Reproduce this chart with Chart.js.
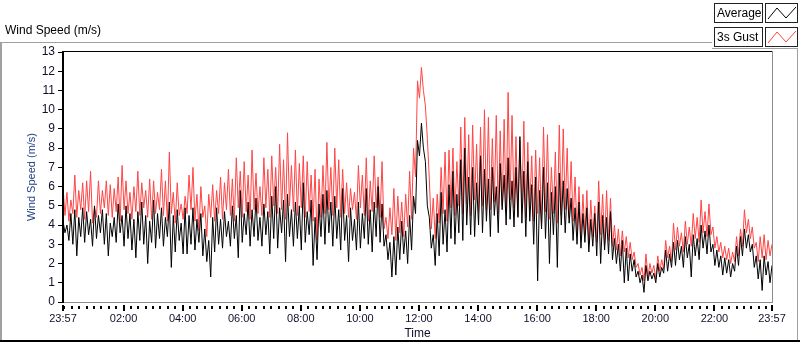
<!DOCTYPE html>
<html><head><meta charset="utf-8">
<script src="https://cdn.jsdelivr.net/npm/chart.js@4/dist/chart.umd.min.js"></script>
<style>html,body{margin:0;padding:0;background:#fff;overflow:hidden}#wrap{position:relative;width:800px;height:342px}canvas{display:block}</style>
</head><body><div id="wrap"><canvas id="c" width="800" height="342"></canvas></div>
<script>
const CHART_TITLE = "Wind Speed (m/s)";
const Y_TITLE = "Wind Speed (m/s)";
const X_TITLE = "Time";
const SERIES_NAMES = ["Average", "3s Gust"];
const SAMPLE_MINUTES = 4;

const AVERAGE = [
4.2,3.6,4.0,3.2,4.6,3.0,4.8,2.4,4.4,3.4,4.9,3.1,4.7,3.5,4.3,2.9,5.0,3.3,4.5,3.6,4.8,3.0,4.6,2.4,4.1,3.4,4.4,3.1,5.1,3.6,4.5,2.9,5.0,3.3,4.6,2.7,4.3,2.3,4.7,3.2,5.2,3.0,4.5,2.0,4.2,3.1,5.3,2.8,4.6,3.3,4.9,2.9,4.4,3.4,5.2,1.8,4.5,2.6,4.8,3.2,4.1,2.5,4.9,2.5,4.5,3.0,4.9,2.7,4.3,3.1,4.6,2.4,
3.8,2.1,3.2,1.3,4.4,2.6,4.9,3.0,4.3,2.8,4.7,3.4,4.2,2.9,5.0,3.3,4.5,2.3,5.8,3.1,4.6,3.5,5.2,2.9,4.8,3.4,5.4,3.2,4.4,2.9,5.1,3.5,4.7,2.5,5.5,3.3,6.0,2.8,4.9,3.6,5.3,2.1,5.6,3.4,4.8,2.9,5.2,3.3,5.0,2.7,6.2,3.1,4.7,3.5,5.3,1.9,4.4,2.2,5.1,3.4,5.6,3.0,5.8,3.6,5.2,2.9,5.5,3.3,4.8,2.7,5.9,3.2,
4.5,2.1,4.9,3.2,4.3,2.7,5.2,2.8,4.6,3.3,5.9,3.0,4.8,2.6,5.2,3.4,6.0,3.1,5.1,2.9,3.5,2.2,3.1,1.3,3.4,1.4,3.9,2.2,4.2,2.5,3.7,2.0,4.5,2.7,5.5,4.6,8.4,7.6,9.3,8.0,7.3,5.0,4.4,2.8,3.5,1.9,4.6,2.4,5.7,3.0,4.8,2.6,6.1,3.3,6.8,3.0,5.6,3.6,7.4,3.2,8.0,4.0,6.5,3.5,7.0,3.4,6.2,4.0,7.6,3.6,6.9,4.2,
6.4,3.4,7.0,4.5,6.0,3.6,7.2,4.8,6.6,4.0,7.5,4.3,6.3,3.9,7.0,4.4,8.6,4.1,6.8,3.4,7.3,4.2,6.1,3.0,6.5,1.1,5.8,3.8,7.0,3.3,6.2,2.0,5.7,3.5,6.0,1.8,6.7,4.0,6.3,3.6,5.9,4.1,5.4,3.2,4.9,3.0,5.2,2.8,4.6,3.1,4.9,2.6,4.3,2.9,4.6,2.4,5.2,2.0,4.5,2.7,4.4,2.5,4.7,2.2,3.3,2.0,3.0,1.6,3.2,1.0,2.8,1.1,
2.5,1.6,2.2,1.3,1.6,1.0,1.4,0.5,1.9,1.1,1.6,1.2,1.5,1.0,2.0,1.3,1.8,1.5,2.7,1.6,2.5,1.8,3.1,1.9,3.2,2.2,2.9,1.8,3.4,2.3,3.0,1.3,3.5,2.4,3.3,2.2,4.0,2.8,3.7,2.5,4.0,2.6,3.0,1.9,2.7,1.8,2.4,1.4,2.3,1.5,2.2,1.3,2.0,1.6,2.9,1.9,3.4,2.4,3.8,2.8,3.5,2.6,3.0,1.8,2.4,1.2,2.2,0.6,2.4,1.4,2.1,1.0,
1.9
];

const GUST = [
6.0,4.5,5.7,4.2,5.3,4.6,6.6,4.4,5.8,4.8,6.2,4.3,6.3,4.7,6.8,4.1,4.9,4.4,6.3,4.6,5.8,4.9,6.3,4.5,6.1,4.4,5.9,4.7,6.5,4.2,7.1,4.8,6.3,4.6,5.7,4.3,6.0,4.7,6.8,4.5,6.2,4.9,5.8,4.4,6.4,4.3,6.3,4.6,5.7,4.8,6.9,4.5,6.3,4.2,7.8,4.6,5.7,4.1,6.2,4.5,5.1,4.3,5.5,4.6,6.6,4.8,7.0,4.2,5.6,3.7,6.0,4.4,
5.0,3.4,5.6,4.4,6.1,4.2,5.8,4.6,6.5,4.3,6.2,4.8,6.9,4.5,6.4,4.2,7.5,4.9,6.8,4.4,7.3,4.7,6.6,4.3,7.9,4.8,6.7,4.6,6.0,4.5,7.5,4.9,6.9,4.4,7.6,5.0,7.0,4.6,8.2,4.8,7.4,4.3,8.8,5.0,7.1,4.7,7.9,4.5,7.2,4.9,7.6,4.4,7.3,4.7,6.6,4.2,6.9,3.2,6.4,4.4,7.1,4.6,8.3,4.8,7.0,4.5,8.0,4.9,7.4,4.4,6.9,4.6,
6.2,4.4,5.9,4.8,5.7,4.3,7.1,4.9,6.6,4.5,7.5,4.2,6.3,4.7,7.6,4.9,6.5,4.4,7.3,3.8,4.4,3.3,4.9,3.5,5.9,3.2,5.5,3.6,5.2,3.4,5.6,3.9,6.8,4.3,8.0,6.5,11.5,10.6,12.2,11.0,10.2,8.5,6.4,3.8,5.4,3.3,5.6,4.1,7.0,4.6,7.8,4.2,7.9,4.9,8.0,4.5,7.3,5.0,9.1,4.6,9.6,5.1,8.7,4.5,9.2,5.3,8.2,4.7,9.1,5.0,10.0,4.8,
9.6,4.8,8.5,5.2,9.7,4.6,8.9,5.0,9.5,4.7,10.9,5.3,9.7,4.9,8.6,4.5,8.4,5.0,9.4,4.4,8.3,4.8,7.6,4.2,7.9,4.6,7.5,4.1,9.1,4.7,8.7,4.3,7.0,4.6,7.8,4.1,9.2,4.5,9.0,4.8,8.0,4.4,7.3,4.2,6.5,3.6,6.0,3.3,5.6,3.5,5.8,3.0,5.3,3.4,5.0,3.1,6.3,3.5,5.6,3.0,5.8,3.2,5.4,2.9,4.0,2.7,3.8,2.4,3.7,2.6,3.4,2.3,
3.1,2.2,2.6,1.8,2.0,1.4,1.8,1.1,2.5,1.3,2.0,1.5,1.9,1.2,2.4,1.6,2.2,1.7,3.2,2.3,2.9,2.1,4.1,2.7,3.9,2.9,3.6,2.6,4.2,3.0,3.9,2.9,4.6,3.3,4.4,3.1,5.3,3.6,4.7,3.4,5.1,3.5,3.9,2.8,3.4,2.6,3.1,2.3,2.9,2.2,2.8,2.0,2.6,2.1,3.4,2.4,3.8,2.9,4.8,3.6,4.3,3.3,3.9,2.8,3.1,2.1,3.4,2.3,3.5,2.2,3.2,2.4,
3.0
];

const X_TICK_MINUTES = [0,123,243,363,483,603,723,843,963,1083,1203,1323,1440];
const X_TICK_LABELS = ["23:57","02:00","04:00","06:00","08:00","10:00","12:00","14:00","16:00","18:00","20:00","22:00","23:57"];
const X_MIN = 0, X_MAX = 1440;
const MINOR_TICK_START = 3, MINOR_TICK_STEP = 15;
const Y_MIN = 0, Y_MAX = 13, Y_STEP = 1;

const FONT = "'Liberation Sans', Arial, sans-serif";
const COLORS = ["#000000", "#ff4444"];

const toPoints = arr => arr.map((v, i) => ({ x: i * SAMPLE_MINUTES, y: v }));

const decorPlugin = {
  id: 'decor',
  afterDraw(chart) {
    const ctx = chart.ctx, ca = chart.chartArea, xs = chart.scales.x;
    ctx.save();
    // plot frame
    ctx.fillStyle = '#000';
    ctx.fillRect(ca.left - 1, ca.top - 1, ca.right - ca.left + 1, 1);
    ctx.fillRect(ca.left - 1, ca.top - 1, 2, ca.bottom - ca.top + 2);
    ctx.fillStyle = '#8c8c8c';
    ctx.fillRect(ca.right, ca.top - 1, 1, ca.bottom - ca.top + 2);
    ctx.fillRect(ca.left + 1, ca.bottom, ca.right - ca.left, 1);
    // x ticks
    ctx.fillStyle = '#000';
    for (let m = MINOR_TICK_START; m < X_MAX; m += MINOR_TICK_STEP) {
      const px = Math.round(xs.getPixelForValue(m));
      ctx.fillRect(px - 1, ca.bottom + 4, 2, 3);
    }
    X_TICK_MINUTES.forEach(m => {
      const px = Math.round(xs.getPixelForValue(m));
      ctx.fillRect(px - 1, ca.bottom + 3, 2, 6);
    });
    // outer frame
    ctx.fillStyle = '#a0a0a0';
    ctx.fillRect(0, 42, 712, 1);
    ctx.fillRect(0, 42, 2, 300);
    ctx.fillRect(797, 48, 1, 294);
    ctx.fillRect(712, 48, 86, 1);
    ctx.fillStyle = '#000';
    ctx.fillRect(0, 340, 800, 2);
    // chart title
    ctx.fillStyle = '#000';
    ctx.font = '12px ' + FONT;
    ctx.textBaseline = 'middle';
    ctx.textAlign = 'left';
    ctx.fillText(CHART_TITLE, 5, 31);
    // legend
    chart.data.datasets.forEach((ds, i) => {
      const y0 = 3 + i * 24;
      ctx.fillStyle = '#fff';
      ctx.fillRect(714, y0, 48, 19);
      ctx.fillRect(766, y0, 32, 19);
      ctx.strokeStyle = '#222';
      ctx.lineWidth = 1;
      ctx.strokeRect(714.5, y0 + 0.5, 48, 19);
      ctx.strokeRect(765.5, y0 + 0.5, 32, 19);
      ctx.fillStyle = '#000';
      ctx.font = '12px ' + FONT;
      ctx.fillText(ds.label, 717, y0 + 10.5);
      ctx.strokeStyle = ds.borderColor;
      ctx.beginPath();
      ctx.moveTo(768, y0 + 16);
      ctx.lineTo(777, y0 + 5);
      ctx.lineTo(786, y0 + 15);
      ctx.lineTo(796, y0 + 4);
      ctx.stroke();
    });
    ctx.restore();
  }
};

new Chart(document.getElementById('c'), {
  type: 'line',
  data: {
    datasets: [
      { label: SERIES_NAMES[0], data: toPoints(AVERAGE), borderColor: COLORS[0], borderWidth: 1, pointRadius: 0, tension: 0, order: 0 },
      { label: SERIES_NAMES[1], data: toPoints(GUST), borderColor: COLORS[1], borderWidth: 1, pointRadius: 0, tension: 0, order: 1 }
    ]
  },
  options: {
    responsive: false, animation: false, devicePixelRatio: 1,
    layout: { padding: { left: 0, top: 52, right: 28, bottom: 0 } },
    plugins: { legend: { display: false }, tooltip: { enabled: false }, title: { display: false } },
    scales: {
      x: {
        type: 'linear', min: X_MIN, max: X_MAX,
        afterBuildTicks: s => { s.ticks = X_TICK_MINUTES.map(v => ({ value: v })); },
        afterFit: s => { s.height = 40; },
        ticks: { autoSkip: false, maxRotation: 0, minRotation: 0, padding: 3, color: '#10102a',
                 font: { family: FONT, size: 11 }, callback: (v, i) => X_TICK_LABELS[i] },
        grid: { display: true, drawOnChartArea: false, drawTicks: true, tickLength: 7, tickColor: 'rgba(0,0,0,0)' },
        border: { display: false },
        title: { display: true, text: X_TITLE, color: '#10102a', font: { family: FONT, size: 12 }, padding: { top: 0, bottom: 1 } }
      },
      y: {
        min: Y_MIN, max: Y_MAX,
        afterFit: s => { s.width = 63; },
        ticks: { stepSize: Y_STEP, padding: 3, color: '#10102a', font: { family: FONT, size: 12 } },
        grid: { display: true, drawOnChartArea: false, drawTicks: true, tickLength: 5, tickColor: '#000' },
        border: { display: false },
        title: { display: true, text: Y_TITLE, color: '#1f3f7f', font: { family: FONT, size: 11 }, padding: { top: 25, bottom: 0 } }
      }
    }
  },
  plugins: [decorPlugin]
});
</script></body></html>
